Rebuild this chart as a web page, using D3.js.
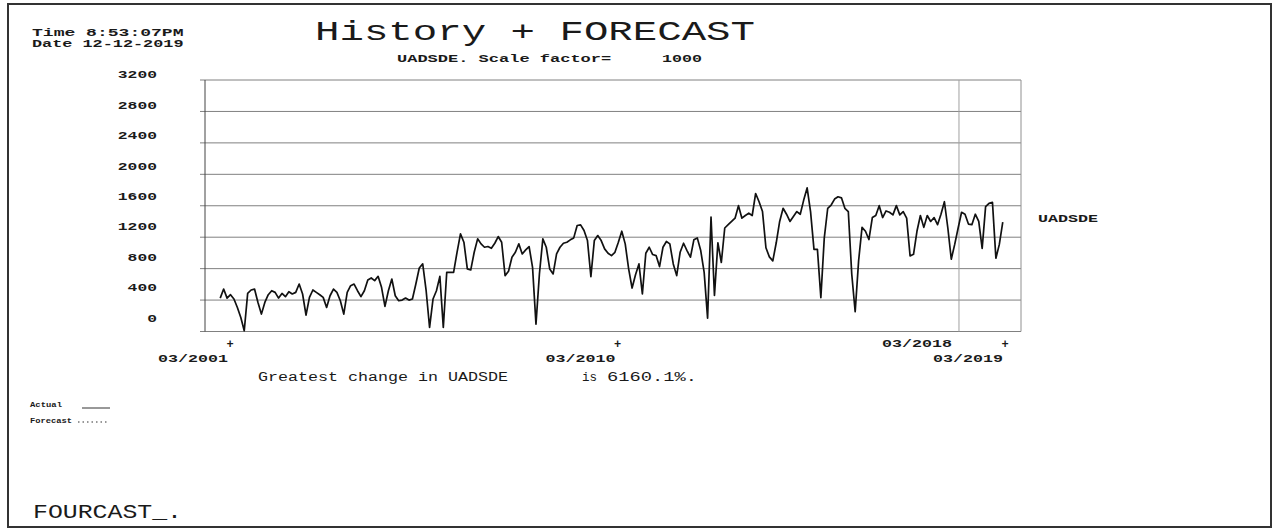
<!DOCTYPE html>
<html>
<head>
<meta charset="utf-8">
<script src="https://cdn.jsdelivr.net/npm/d3@7"></script>
<style>
  html, body { margin: 0; padding: 0; background: #fff; }
  svg { display: block; }
  text { font-family: "Liberation Mono", "Courier New", monospace; fill: #1a1a1a; }
</style>
</head>
<body>
<div id="chart"></div>
<script>
// ---- data ----
const seriesName = "UADSDE";
const firstObs = new Date(2000, 11, 8);
const lastObs = new Date(2019, 1, 10);

const uadsde = [
  425, 540, 425, 468, 413, 306, 179, 9, 485, 528,
  540, 370, 221, 370, 468, 519, 498, 425, 485, 443,
  506, 477, 498, 604, 477, 208, 434, 528, 498, 468,
  434, 306, 455, 540, 498, 391, 221, 498, 583, 604,
  519, 443, 519, 655, 681, 647, 702, 562, 319, 519,
  668, 455, 391, 400, 425, 400, 413, 604, 808, 860,
  519, 51, 413, 519, 702, 51, 753, 753, 753, 1008,
  1242, 1136, 796, 783, 1008, 1179, 1115, 1072, 1081,
  1059, 1123, 1208, 1136, 711, 766, 945, 1008, 1115, 987,
  1038, 1081, 817, 94, 732, 1179, 1072, 796, 732, 987,
  1072, 1123, 1136, 1166, 1191, 1349, 1357, 1285, 1157, 698,
  1157, 1221, 1157, 1051, 996, 966, 1008, 1136, 1276, 1115,
  796, 553, 723, 860, 477, 996, 1072, 979, 966, 826,
  1072, 1145, 1115, 860, 711, 1008, 1123, 1030, 945, 1166,
  1191, 1030, 753, 170,
  1455, 460, 1129, 878, 1317, 1359, 1400, 1442, 1601, 1442,
  1476, 1505, 1476, 1756, 1651, 1526, 1066, 949, 899, 1129,
  1400, 1568, 1492, 1400, 1463, 1526, 1492, 1672, 1827, 1526,
  1045, 1045, 431, 1191, 1568, 1609, 1685, 1714, 1701, 1568,
  1526, 732, 251, 899, 1325, 1275, 1170, 1450, 1476, 1601,
  1450, 1534, 1517, 1484, 1601, 1484, 1526, 1442, 961, 982,
  1275, 1476, 1325, 1476, 1400, 1450, 1359, 1492, 1651, 1317,
  920, 1108, 1317, 1517, 1492, 1367, 1359, 1492, 1400, 1058,
  1588, 1630, 1643, 932, 1108, 1392
];

const yTicks = [0, 400, 800, 1200, 1600, 2000, 2400, 2800, 3200];
const xTickDates = [new Date(2001, 2, 1), new Date(2010, 2, 1), new Date(2019, 2, 1)];
const xTickLabels = ["03/2001", "03/2010", "03/2019"];
const markerDate = new Date(2018, 2, 1);
const markerLabel = "03/2018";

const timeText = "Time  8:53:07PM";
const dateText = "Date 12-12-2019";
const titleText = "History + FORECAST";
const scaleText = "UADSDE. Scale factor=";
const scaleValue = "1000";
const changeText = "Greatest change in UADSDE";
const changeIs = "is";
const changeValue = "6160.1%.";
const footerText = "FOURCAST_.";

// ---- layout ----
const width = 1275, height = 529;
const CW = 10; // printer character width

const svg = d3.select("#chart").append("svg")
  .attr("width", width)
  .attr("height", height);

svg.append("rect")
  .attr("x", 8).attr("y", 4)
  .attr("width", 1263).attr("height", 523)
  .attr("fill", "#fff")
  .attr("stroke", "#333")
  .attr("stroke-width", 2);

const plotLeft = 205, plotRight = 1021, plotTop = 80, plotBottom = 331.5;

const x = d3.scaleTime()
  .domain([xTickDates[0], xTickDates[2]])
  .range([230, 1005]);

const y = d3.scaleLinear()
  .domain([0, 3200])
  .range([plotBottom, plotTop]);

// the printer puts the tick labels on a slightly tighter pitch than the grid
const yLabel = d3.scaleLinear()
  .domain([0, 3200])
  .range([321.7, 78.3]);

// fixed-pitch text helper
function ptext(str, xs, ys, size, weight, cw) {
  const w = str.length * (cw || CW);
  return svg.append("text")
    .attr("x", xs)
    .attr("y", ys)
    .attr("font-size", size)
    .attr("font-weight", weight || "normal")
    .attr("textLength", w)
    .attr("lengthAdjust", "spacingAndGlyphs")
    .text(str);
}

// header
ptext(timeText, 32, 35.5, 10, "bold", 10.1);
ptext(dateText, 32, 47, 10, "bold", 10.1);
ptext(titleText, 315, 39.5, 27, "normal", 440 / titleText.length);
ptext(scaleText, 397, 61.5, 11, "bold", 10.2);
ptext(scaleValue, 662, 61.5, 11, "bold", 10);

// grid
const grid = svg.append("g");
grid.selectAll("line.h")
  .data(yTicks)
  .enter()
  .append("line")
  .attr("class", "h")
  .attr("x1", plotLeft - 5)
  .attr("x2", plotRight)
  .attr("y1", d => y(d))
  .attr("y2", d => y(d))
  .attr("stroke", "#808080")
  .attr("stroke-width", 1);

grid.append("line")
  .attr("x1", plotRight).attr("x2", plotRight)
  .attr("y1", plotTop).attr("y2", plotBottom)
  .attr("stroke", "#909090");

grid.append("line")
  .attr("x1", x(markerDate) - 3).attr("x2", x(markerDate) - 3)
  .attr("y1", plotTop).attr("y2", plotBottom)
  .attr("stroke", "#a0a0a0");

grid.append("line")
  .attr("x1", plotLeft).attr("x2", plotLeft)
  .attr("y1", plotTop).attr("y2", plotBottom)
  .attr("stroke", "#444");

// y labels, right aligned at 157
yTicks.forEach(v => {
  const s = String(v);
  ptext(s, 157 - s.length * 9.8, yLabel(v), 11.5, "bold", 9.8);
});

// series line
const step = (lastObs - firstObs) / (uadsde.length - 1);
const points = uadsde.map((v, i) => ({ date: new Date(+firstObs + i * step), value: v }));

const line = d3.line()
  .x(d => x(d.date))
  .y(d => y(d.value));

svg.append("path")
  .datum(points)
  .attr("d", line)
  .attr("fill", "none")
  .attr("stroke", "#111")
  .attr("stroke-width", 1.7)
  .attr("stroke-linejoin", "round");

// x axis "+" ticks and labels
xTickDates.forEach((d, i) => {
  const px = x(d);
  svg.append("text")
    .attr("x", px)
    .attr("y", 348)
    .attr("text-anchor", "middle")
    .attr("font-size", 12)
    .attr("font-weight", "bold")
    .text("+");
  const s = xTickLabels[i];
  ptext(s, px - 2 - s.length * CW, 362, 11.5, "bold");
});
ptext(markerLabel, x(markerDate) - 3 - 7 - markerLabel.length * CW, 347, 11.5, "bold");

// series name on the right
ptext(seriesName, 1038, 221.5, 11, "bold", 10);

// greatest change line
ptext(changeText, 258, 381, 12, "normal", 10);
ptext(changeIs, 582, 381, 12, "normal", 7.5);
ptext(changeValue, 607, 381, 12, "normal", 11.25);

// legend
ptext("Actual", 30, 407, 7, "bold", 32 / 6);
svg.append("line")
  .attr("x1", 82).attr("x2", 110)
  .attr("y1", 408).attr("y2", 408)
  .attr("stroke", "#333").attr("stroke-width", 1);
ptext("Forecast", 30, 423, 7, "bold", 42 / 8);
svg.append("line")
  .attr("x1", 78).attr("x2", 108)
  .attr("y1", 422).attr("y2", 422)
  .attr("stroke", "#333").attr("stroke-width", 1.2)
  .attr("stroke-dasharray", "1.5,3");

// footer
ptext(footerText, 33, 518, 21, "normal", 149 / footerText.length);
</script>
</body>
</html>
